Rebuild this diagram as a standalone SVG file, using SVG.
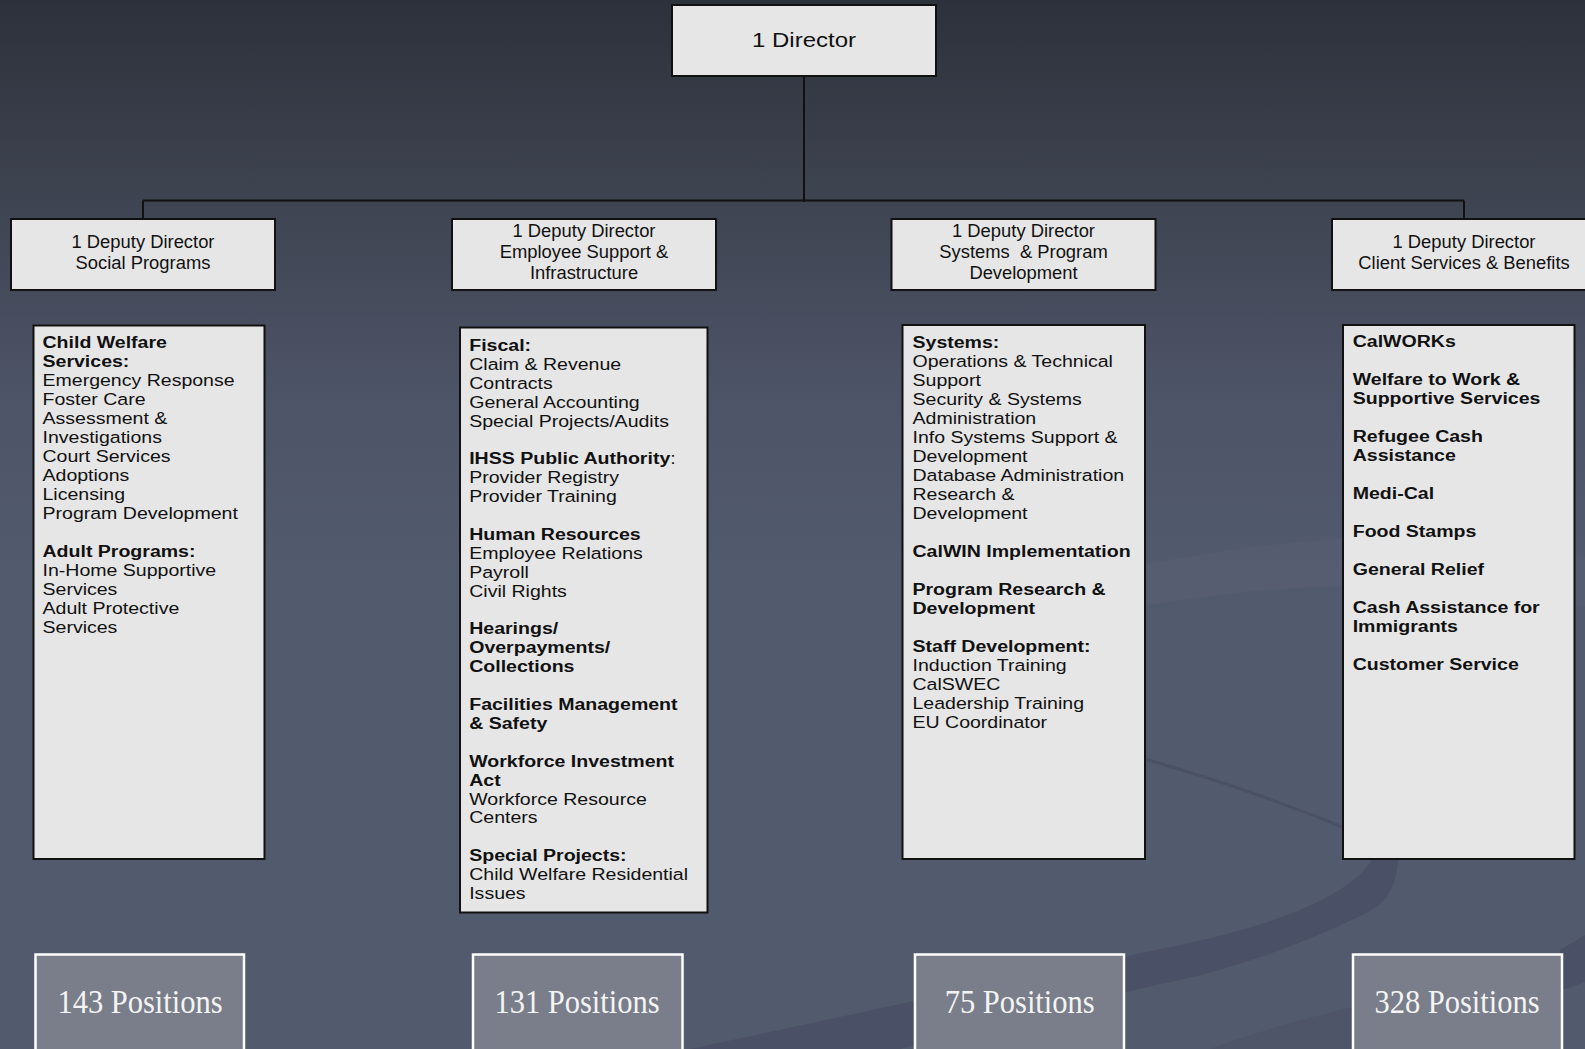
<svg xmlns="http://www.w3.org/2000/svg" width="1585" height="1049" viewBox="0 0 1585 1049">
  <defs>
    <linearGradient id="bgGrad" x1="0" y1="0" x2="0" y2="1">
      <stop offset="0" stop-color="#2d313b"/>
      <stop offset="0.18" stop-color="#3e4350"/>
      <stop offset="0.38" stop-color="#4d5467"/>
      <stop offset="0.55" stop-color="#525a6d"/>
      <stop offset="1" stop-color="#525a6d"/>
    </linearGradient>
  </defs>
  <style>
    .box { fill: #e6e6e6; stroke: #111; stroke-width: 2; }
    .pos { fill: #797e8a; stroke: #ffffff; stroke-width: 2.5; }
    .conn { stroke: #111; stroke-width: 2; fill: none; }
    .t { font-family: "Liberation Sans", Arial, sans-serif; font-size: 17px; fill: #111; }
    .b { font-weight: bold; }
    .dep { font-family: "Liberation Sans", Arial, sans-serif; font-size: 17.5px; fill: #111; text-anchor: middle; white-space: pre; }
    .dir { font-family: "Liberation Sans", Arial, sans-serif; font-size: 20px; fill: #111; text-anchor: middle; }
    .ptxt { font-family: "Liberation Serif", "Times New Roman", serif; font-size: 33.5px; fill: #f4f4f4; text-anchor: middle; }
  </style>

  <!-- background -->
  <rect x="0" y="0" width="1585" height="1049" fill="url(#bgGrad)"/>
  <g id="swoosh">
    <path d="M 1060 580 C 1200 555, 1380 510, 1600 560 L 1600 610 C 1380 562, 1200 595, 1060 620 Z" fill="#ffffff" fill-opacity="0.022"/>
    <path d="M 690 1049 C 850 1015, 1050 972, 1180 945 C 1280 924, 1350 895, 1372 860 L 1372 760 L 1398 760 L 1398 860 C 1396 890, 1385 905, 1360 916 C 1300 945, 1240 966, 1180 980 C 1100 997, 1000 1020, 900 1049 Z" fill="#4a5065"/>
    <path d="M 1130 755 Q 1240 785, 1350 830" fill="none" stroke="#4b5165" stroke-width="3"/>
    <path d="M 1560 950 C 1570 945, 1580 938, 1590 932 L 1590 980 C 1580 984, 1570 988, 1560 990 Z" fill="#4a5065"/>
    <path d="M 1210 1049 C 1260 1030, 1320 1015, 1360 1005 L 1360 1049 Z" fill="#4e5569"/>
  </g>

  <!-- connectors -->
  <g id="connectors">
    <line class="conn" x1="804" y1="76" x2="804" y2="202"/>
    <line class="conn" x1="143" y1="200.5" x2="1464" y2="200.5"/>
    <line class="conn" x1="143" y1="200.5" x2="143" y2="219"/>
    <line class="conn" x1="1464" y1="200.5" x2="1464" y2="219"/>
  </g>

  <!-- director -->
  <g id="director">
    <rect class="box" x="672" y="5" width="264" height="71"/>
    <text class="dir" transform="translate(804,0) scale(1.2,1)" x="0" y="47">1 Director</text>
  </g>

  <!-- deputy directors -->
  <g id="deputy-social">
    <rect class="box" x="11" y="219" width="264" height="71"/>
    <text class="dep" transform="translate(143,0) scale(1.05,1)"><tspan x="0" y="248.5">1 Deputy Director</tspan><tspan x="0" y="269.5">Social Programs</tspan></text>
  </g>
  <g id="deputy-employee">
    <rect class="box" x="452" y="219" width="264" height="71"/>
    <text class="dep" transform="translate(584,0) scale(1.05,1)"><tspan x="0" y="237.5">1 Deputy Director</tspan><tspan x="0" y="258.5">Employee Support &amp;</tspan><tspan x="0" y="279.5">Infrastructure</tspan></text>
  </g>
  <g id="deputy-systems">
    <rect class="box" x="891.5" y="219" width="264" height="71"/>
    <text class="dep" transform="translate(1023.5,0) scale(1.05,1)"><tspan x="0" y="237.5">1 Deputy Director</tspan><tspan x="0" y="258.5">Systems  &amp; Program</tspan><tspan x="0" y="279.5">Development</tspan></text>
  </g>
  <g id="deputy-client">
    <rect class="box" x="1332" y="219" width="264" height="71"/>
    <text class="dep" transform="translate(1464,0) scale(1.05,1)"><tspan x="0" y="248.5">1 Deputy Director</tspan><tspan x="0" y="269.5">Client Services &amp; Benefits</tspan></text>
  </g>

  <!-- program lists -->
  <g id="programs-social">
    <rect class="box" x="33.5" y="325.5" width="231" height="533.5"/>
    <g transform="translate(42.5,0) scale(1.15,1)">
      <text class="t">
        <tspan x="0" y="347.6" class="b">Child Welfare</tspan>
        <tspan x="0" y="366.6" class="b">Services:</tspan>
        <tspan x="0" y="385.6">Emergency Response</tspan>
        <tspan x="0" y="404.6">Foster Care</tspan>
        <tspan x="0" y="423.6">Assessment &amp;</tspan>
        <tspan x="0" y="442.6">Investigations</tspan>
        <tspan x="0" y="461.6">Court Services</tspan>
        <tspan x="0" y="480.6">Adoptions</tspan>
        <tspan x="0" y="499.6">Licensing</tspan>
        <tspan x="0" y="518.6">Program Development</tspan>
        <tspan x="0" y="556.6" class="b">Adult Programs:</tspan>
        <tspan x="0" y="575.6">In-Home Supportive</tspan>
        <tspan x="0" y="594.6">Services</tspan>
        <tspan x="0" y="613.6">Adult Protective</tspan>
        <tspan x="0" y="632.6">Services</tspan>
      </text>
    </g>
  </g>

  <g id="programs-employee">
    <rect class="box" x="460" y="327.5" width="247.5" height="585"/>
    <g transform="translate(469.2,0) scale(1.15,1)">
      <text class="t">
        <tspan x="0" y="351" class="b">Fiscal:</tspan>
        <tspan x="0" y="369.9">Claim &amp; Revenue</tspan>
        <tspan x="0" y="388.8">Contracts</tspan>
        <tspan x="0" y="407.7">General Accounting</tspan>
        <tspan x="0" y="426.6">Special Projects/Audits</tspan>
        <tspan x="0" y="464.4" class="b">IHSS Public Authority</tspan><tspan>:</tspan>
        <tspan x="0" y="483.3">Provider Registry</tspan>
        <tspan x="0" y="502.2">Provider Training</tspan>
        <tspan x="0" y="540" class="b">Human Resources</tspan>
        <tspan x="0" y="558.9">Employee Relations</tspan>
        <tspan x="0" y="577.8">Payroll</tspan>
        <tspan x="0" y="596.7">Civil Rights</tspan>
        <tspan x="0" y="634.5" class="b">Hearings/</tspan>
        <tspan x="0" y="653.4" class="b">Overpayments/</tspan>
        <tspan x="0" y="672.3" class="b">Collections</tspan>
        <tspan x="0" y="710.1" class="b">Facilities Management</tspan>
        <tspan x="0" y="729" class="b">&amp; Safety</tspan>
        <tspan x="0" y="766.8" class="b">Workforce Investment</tspan>
        <tspan x="0" y="785.7" class="b">Act</tspan>
        <tspan x="0" y="804.6">Workforce Resource</tspan>
        <tspan x="0" y="823.5">Centers</tspan>
        <tspan x="0" y="861.3" class="b">Special Projects:</tspan>
        <tspan x="0" y="880.2">Child Welfare Residential</tspan>
        <tspan x="0" y="899.1">Issues</tspan>
      </text>
    </g>
  </g>

  <g id="programs-systems">
    <rect class="box" x="902.5" y="325" width="242.5" height="534"/>
    <g transform="translate(912.5,0) scale(1.15,1)">
      <text class="t">
        <tspan x="0" y="347.7" class="b">Systems:</tspan>
        <tspan x="0" y="366.7">Operations &amp; Technical</tspan>
        <tspan x="0" y="385.7">Support</tspan>
        <tspan x="0" y="404.7">Security &amp; Systems</tspan>
        <tspan x="0" y="423.7">Administration</tspan>
        <tspan x="0" y="442.7">Info Systems Support &amp;</tspan>
        <tspan x="0" y="461.7">Development</tspan>
        <tspan x="0" y="480.7">Database Administration</tspan>
        <tspan x="0" y="499.7">Research &amp;</tspan>
        <tspan x="0" y="518.7">Development</tspan>
        <tspan x="0" y="556.7" class="b">CalWIN Implementation</tspan>
        <tspan x="0" y="594.7" class="b">Program Research &amp;</tspan>
        <tspan x="0" y="613.7" class="b">Development</tspan>
        <tspan x="0" y="651.7" class="b">Staff Development:</tspan>
        <tspan x="0" y="670.7">Induction Training</tspan>
        <tspan x="0" y="689.7">CalSWEC</tspan>
        <tspan x="0" y="708.7">Leadership Training</tspan>
        <tspan x="0" y="727.7">EU Coordinator</tspan>
      </text>
    </g>
  </g>

  <g id="programs-client">
    <rect class="box" x="1343" y="325" width="231.5" height="534"/>
    <g transform="translate(1352.7,0) scale(1.15,1)">
      <text class="t b">
        <tspan x="0" y="347.5">CalWORKs</tspan>
        <tspan x="0" y="385.5">Welfare to Work &amp;</tspan>
        <tspan x="0" y="404.5">Supportive Services</tspan>
        <tspan x="0" y="442.5">Refugee Cash</tspan>
        <tspan x="0" y="461.5">Assistance</tspan>
        <tspan x="0" y="499.5">Medi-Cal</tspan>
        <tspan x="0" y="537.5">Food Stamps</tspan>
        <tspan x="0" y="575.5">General Relief</tspan>
        <tspan x="0" y="613.5">Cash Assistance for</tspan>
        <tspan x="0" y="632.5">Immigrants</tspan>
        <tspan x="0" y="670.5">Customer Service</tspan>
      </text>
    </g>
  </g>

  <!-- position totals -->
  <g id="positions-social">
    <rect class="pos" x="35.5" y="954.5" width="208.5" height="120"/>
    <text class="ptxt" transform="translate(140,0) scale(0.91,1)" x="0" y="1012.7">143 Positions</text>
  </g>
  <g id="positions-employee">
    <rect class="pos" x="473" y="954.5" width="209.5" height="120"/>
    <text class="ptxt" transform="translate(577,0) scale(0.91,1)" x="0" y="1012.7">131 Positions</text>
  </g>
  <g id="positions-systems">
    <rect class="pos" x="915" y="954.5" width="209" height="120"/>
    <text class="ptxt" transform="translate(1019.7,0) scale(0.91,1)" x="0" y="1012.7">75 Positions</text>
  </g>
  <g id="positions-client">
    <rect class="pos" x="1353" y="954.5" width="209" height="120"/>
    <text class="ptxt" transform="translate(1457,0) scale(0.91,1)" x="0" y="1012.7">328 Positions</text>
  </g>
</svg>
